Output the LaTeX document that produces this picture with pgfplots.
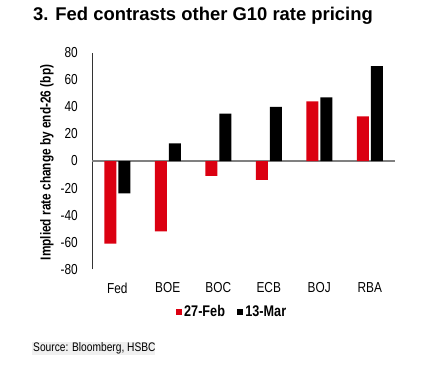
\documentclass[border=0pt]{standalone}
\usepackage{pgfplots}
\pgfplotsset{compat=1.18}
\usepackage{fontspec}
\setmainfont{Liberation Sans}
\newfontfamily\narrow{Liberation Sans}[FakeStretch=0.82]
\definecolor{hred}{HTML}{DB0011}
\begin{document}
\begin{tikzpicture}[x=1bp,y=1bp]
\useasboundingbox (0,0) rectangle (438,366);
\node[anchor=base west, font=\bfseries\fontsize{18.5}{20}\selectfont, inner sep=0] at (33,346) {3. Fed contrasts other G10 rate pricing};
\fill[black!6] (32,11) rectangle (155,24.3);
\node[anchor=west, inner sep=0, font=\narrow\fontsize{12.5}{14}\selectfont] at (33,17.7) {Source: Bloomberg, HSBC};
\begin{axis}[
  at={(92bp,96.7bp)}, anchor=south west,
  width=303bp, height=216.6bp, scale only axis,
  ymin=-80, ymax=80, ytick={-80,-60,...,80},
  xmin=-0.5, xmax=5.5, xtick={0,...,5}, xticklabels={Fed,BOE,BOC,ECB,BOJ,RBA},
  axis lines=left, axis line style={-},
  x axis line style={draw=none},
  y axis line style={line width=0.8bp, black!80},
  major tick length=0,
  ybar=2bp, bar width=12bp,
  ticklabel style={font=\narrow\fontsize{14.5}{16}\selectfont},
  /pgf/number format/assume math mode=true,
  yticklabel style={inner sep=0pt, anchor=east, xshift=-14bp},
  xticklabel style={inner sep=0pt, anchor=north, yshift=-13.4bp},
  extra y ticks={0}, extra y tick labels={},
  extra y tick style={grid=major, major grid style={draw=black!50, line width=1.5bp}},
  ylabel={Implied rate change by end-26 (bp)},
  every axis y label/.style={at={(axis description cs:-0.1485,0.493)}, rotate=90, anchor=center, font=\narrow\bfseries\fontsize{14.5}{16}\selectfont},
  legend style={at={(axis description cs:0.462,-0.197)}, anchor=center, draw=none, fill=none, legend columns=2,
    font=\narrow\bfseries\fontsize{15.5}{17}\selectfont, inner sep=0pt,
    /tikz/every even column/.append style={column sep=10bp}},
]
\addplot[fill=hred, draw=none, legend image code/.code={\fill[hred] (0bp,-3.2bp) rectangle (6.4bp,3.2bp);}]
  coordinates {(0,-61) (1,-52) (2,-11) (3,-14) (4,44) (5,33)};
\addplot[fill=black, draw=none, legend image code/.code={\fill[black] (0bp,-3.2bp) rectangle (6.4bp,3.2bp);}]
  coordinates {(0,-24) (1,13) (2,35) (3,40) (4,47) (5,70)};
\legend{27-Feb,13-Mar}
\end{axis}
\end{tikzpicture}
\end{document}
